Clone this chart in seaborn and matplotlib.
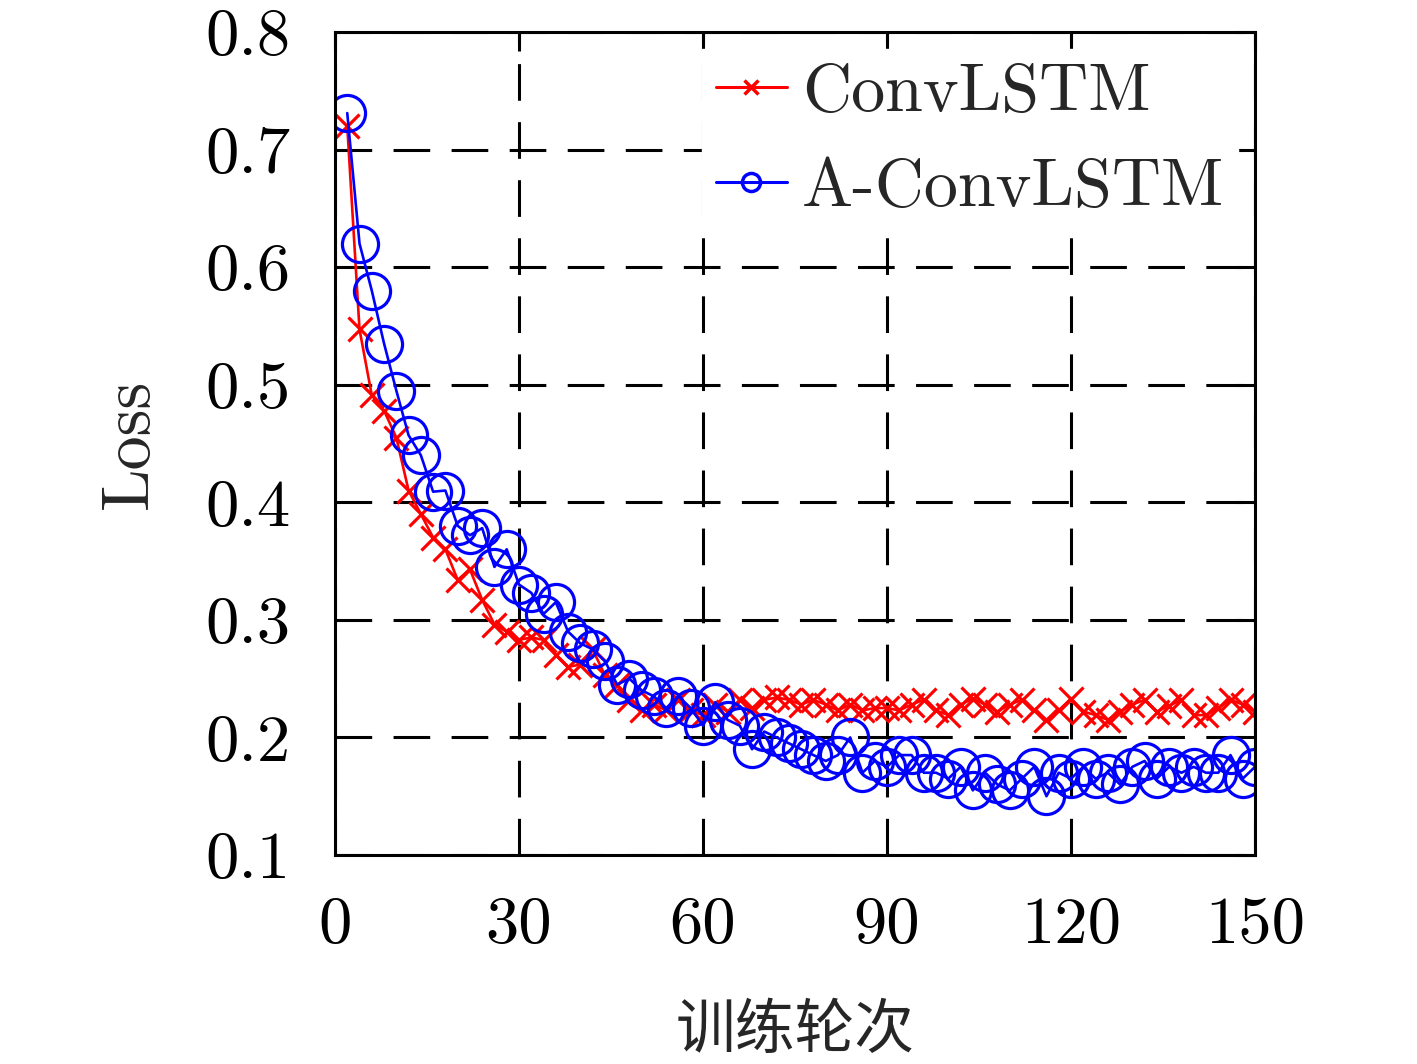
import matplotlib
matplotlib.use("Agg")
import matplotlib.pyplot as plt
from matplotlib.lines import Line2D
import seaborn as sns

# training epochs (sampled every 2 epochs)
epochs = list(range(2, 151, 2))

# ConvLSTM loss
conv_lstm = [0.720, 0.547, 0.491, 0.478, 0.455, 0.410, 0.390, 0.370, 0.360, 0.334,
             0.343, 0.317, 0.296, 0.290, 0.283, 0.285, 0.283, 0.270, 0.260, 0.262,
             0.275, 0.253, 0.245, 0.232, 0.223, 0.228, 0.223, 0.232, 0.223, 0.219,
             0.228, 0.222, 0.232, 0.225, 0.232, 0.234, 0.232, 0.228, 0.232, 0.228,
             0.223, 0.228, 0.223, 0.225, 0.225, 0.223, 0.228, 0.232, 0.223, 0.219,
             0.228, 0.233, 0.228, 0.222, 0.228, 0.232, 0.223, 0.215, 0.223, 0.233,
             0.222, 0.219, 0.215, 0.222, 0.228, 0.232, 0.222, 0.227, 0.232, 0.219,
             0.219, 0.225, 0.232, 0.228, 0.222]

# A-ConvLSTM loss
a_conv_lstm = [0.731, 0.620, 0.580, 0.535, 0.495, 0.457, 0.440, 0.409, 0.410, 0.380,
               0.372, 0.378, 0.345, 0.360, 0.330, 0.323, 0.305, 0.315, 0.290, 0.280,
               0.275, 0.265, 0.245, 0.250, 0.240, 0.235, 0.225, 0.235, 0.225, 0.210,
               0.230, 0.215, 0.210, 0.190, 0.205, 0.200, 0.195, 0.190, 0.185, 0.180,
               0.185, 0.200, 0.170, 0.180, 0.175, 0.185, 0.185, 0.170, 0.170, 0.165,
               0.175, 0.155, 0.170, 0.160, 0.155, 0.165, 0.175, 0.150, 0.170, 0.165,
               0.175, 0.165, 0.170, 0.160, 0.175, 0.180, 0.165, 0.175, 0.170, 0.175,
               0.170, 0.170, 0.185, 0.165, 0.175]

labels = ["ConvLSTM", "A-ConvLSTM"]
x_ticks = [0, 30, 60, 90, 120, 150]
y_ticks = [0.1, 0.2, 0.3, 0.4, 0.5, 0.6, 0.7, 0.8]

sns.set_style("white")
plt.rcParams["font.family"] = ["cmr10", "Noto Sans CJK SC"]
plt.rcParams["axes.formatter.use_mathtext"] = True

fig = plt.figure(figsize=(14.17, 10.64), dpi=100)
ax = fig.add_axes([0.2364, 0.1964, 0.6493, 0.7736])

sns.lineplot(x=epochs, y=conv_lstm, ax=ax, color="#ff0000", lw=1.9,
             marker="x", markersize=17, markeredgewidth=2.3,
             markeredgecolor="#ff0000", label=labels[0], legend=False)
sns.lineplot(x=epochs, y=a_conv_lstm, ax=ax, color="#0000ff", lw=1.9,
             marker="o", markersize=26, markeredgewidth=2.3,
             markeredgecolor="#0000ff", markerfacecolor="none",
             label=labels[1], legend=False)

ax.set_xlim(0, 150)
ax.set_ylim(0.1, 0.8)
ax.set_xticks(x_ticks)
ax.set_xticklabels([str(t) for t in x_ticks])
ax.set_yticks(y_ticks)
ax.set_yticklabels([f"{t:.1f}" for t in y_ticks])
ax.grid(True, color="black", linestyle=(0, (12, 7)), linewidth=2.2)
ax.set_axisbelow(True)
for sp in ax.spines.values():
    sp.set_visible(True)
    sp.set_color("black")
    sp.set_linewidth(2.2)
ax.tick_params(axis="both", direction="in", length=14, width=2.2,
               top=True, right=True, labelsize=48, colors="black")
ax.tick_params(axis="x", pad=30)
ax.tick_params(axis="y", pad=32)

ax.set_ylabel("Loss", fontsize=49, labelpad=32)
ax.set_xlabel("训练轮次", fontsize=43, family=["Noto Sans CJK SC"], labelpad=32)

handles = [
    Line2D([], [], color="#ff0000", lw=2.2, marker="x", markersize=10,
           markeredgewidth=2.5),
    Line2D([], [], color="#0000ff", lw=2.2, marker="o", markersize=13,
           markeredgewidth=2.5, markerfacecolor="none"),
]
leg = ax.legend(handles, labels, loc="upper right", bbox_to_anchor=(1.0, 1.0),
                fontsize=49, frameon=True, fancybox=False, handlelength=1.05,
                handletextpad=0.22, labelspacing=0.5, borderpad=0.2,
                borderaxespad=0.25, numpoints=1)
leg.get_frame().set_edgecolor("white")
leg.get_frame().set_facecolor("white")
leg.get_frame().set_alpha(1)

fig.savefig("out.png", dpi=100, facecolor="white")
